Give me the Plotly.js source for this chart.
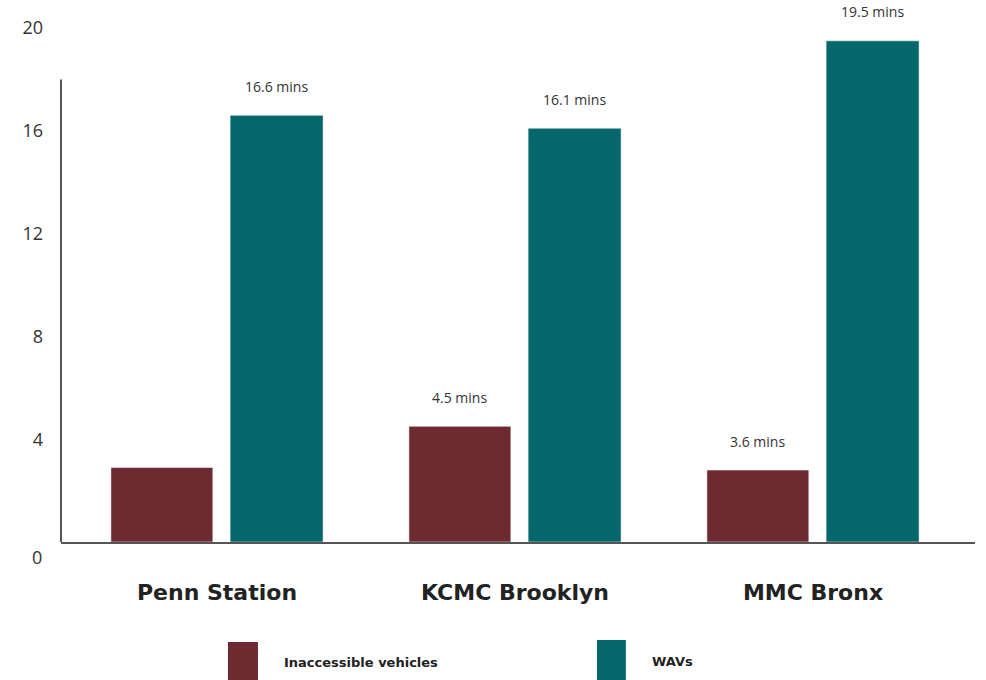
<!DOCTYPE html>
<html>
<head>
<meta charset="utf-8">
<script src="https://cdn.plot.ly/plotly-3.0.1.min.js"></script>
<style>html,body{margin:0;padding:0;background:#fff;}#chart{width:986px;height:680px;}</style>
</head>
<body>
<div id="chart"></div>
<script>
// ---- data ----
const categories = ["Penn Station", "KCMC Brooklyn", "MMC Bronx"];
const inaccessibleValues = [2.9, 4.5, 2.8];
const wavValues = [16.6, 16.1, 19.5];
const inaccessibleLabels = ["", "4.5 mins", "3.6 mins"];
const wavLabels = ["16.6 mins", "16.1 mins", "19.5 mins"];
const seriesNames = ["Inaccessible vehicles", "WAVs"];
const yTickValues = [4, 8, 12, 16, 20];
const yTickLabels = ["4", "8", "12", "16", "20"];
const zeroLabel = "0";

// ---- styling ----
const RED = "#6e2a31";
const TEAL = "#05676b";
const redOffset = -0.356, redWidth = 0.342;
const tealOffset = 0.044, tealWidth = 0.312;
const xIdx = categories.map((c, i) => i);

const traces = [
  {
    type: "bar", name: seriesNames[0], x: xIdx, y: inaccessibleValues,
    offset: redOffset, width: redWidth,
    marker: {color: RED, line: {color: "rgba(255,255,255,0.5)", width: 1}},
    hoverinfo: "none", showlegend: false
  },
  {
    type: "bar", name: seriesNames[1], x: xIdx, y: wavValues,
    offset: tealOffset, width: tealWidth,
    marker: {color: TEAL, line: {color: "rgba(255,255,255,0.5)", width: 1}},
    hoverinfo: "none", showlegend: false
  }
];

const labelFont = {family: "Open Sans, sans-serif", size: 14, color: "#333"};
const annotations = [];
function addLabels(vals, labels, off, w) {
  vals.forEach((v, i) => {
    if (!labels[i]) return;
    annotations.push({
      x: i + off + w / 2, y: v, xref: "x", yref: "y",
      text: labels[i], showarrow: false, yanchor: "middle", yshift: 29,
      font: labelFont
    });
  });
}
addLabels(inaccessibleValues, inaccessibleLabels, redOffset, redWidth);
addLabels(wavValues, wavLabels, tealOffset, tealWidth);

// zero tick label (drawn lower than the axis baseline, as in the reference)
annotations.push({
  x: 0, xref: "paper", y: 0, yref: "y", xanchor: "right", yanchor: "middle",
  xshift: -17, yshift: -15, text: zeroLabel, showarrow: false,
  font: {family: "Open Sans, sans-serif", size: 18, color: "#333"}
});

// legend texts
const legendFont = {family: "DejaVu Sans, sans-serif", size: 13, color: "#222"};
annotations.push({
  x: 0.2422, xref: "paper", y: -0.227, yref: "paper", xanchor: "left", yanchor: "middle",
  text: "<b>" + seriesNames[0] + "</b>", showarrow: false, font: legendFont
});
annotations.push({
  x: 0.6445, xref: "paper", y: -0.225, yref: "paper", xanchor: "left", yanchor: "middle",
  text: "<b>" + seriesNames[1] + "</b>", showarrow: false, font: legendFont
});

const shapes = [
  // y-axis line (starts below the top of the plot area)
  {type: "line", xref: "paper", x0: 0, x1: 0, yref: "y", y0: 0, y1: 18,
   line: {color: "#555", width: 2}},
  // legend swatches
  {type: "rect", xref: "paper", yref: "paper", x0: 0.1827, x1: 0.2155, y0: -0.188, y1: -0.30,
   fillcolor: RED, line: {width: 0}},
  {type: "rect", xref: "paper", yref: "paper", x0: 0.5864, x1: 0.618, y0: -0.184, y1: -0.30,
   fillcolor: TEAL, line: {width: 0}}
];

const layout = {
  width: 986, height: 680,
  margin: {l: 61, r: 11, t: 10, b: 138},
  paper_bgcolor: "#fff", plot_bgcolor: "#fff",
  barmode: "overlay",
  showlegend: false,
  xaxis: {
    type: "linear",
    range: [-0.5235, 2.5436],
    tickvals: xIdx, ticktext: categories,
    tickfont: {family: "DejaVu Sans, sans-serif", size: 22, color: "#222", weight: "bold"},
    showgrid: false, zeroline: false,
    showline: true, linecolor: "#555", linewidth: 2,
    ticks: "", ticklabelstandoff: 30
  },
  yaxis: {
    range: [0, 20.7],
    tickvals: yTickValues, ticktext: yTickLabels,
    tickfont: {family: "Open Sans, sans-serif", size: 18, color: "#333"},
    showgrid: false, zeroline: false, showline: false,
    ticks: "", ticklabelstandoff: 17
  },
  shapes: shapes,
  annotations: annotations
};

Plotly.newPlot("chart", traces, layout, {displayModeBar: false, staticPlot: true});
</script>
</body>
</html>
